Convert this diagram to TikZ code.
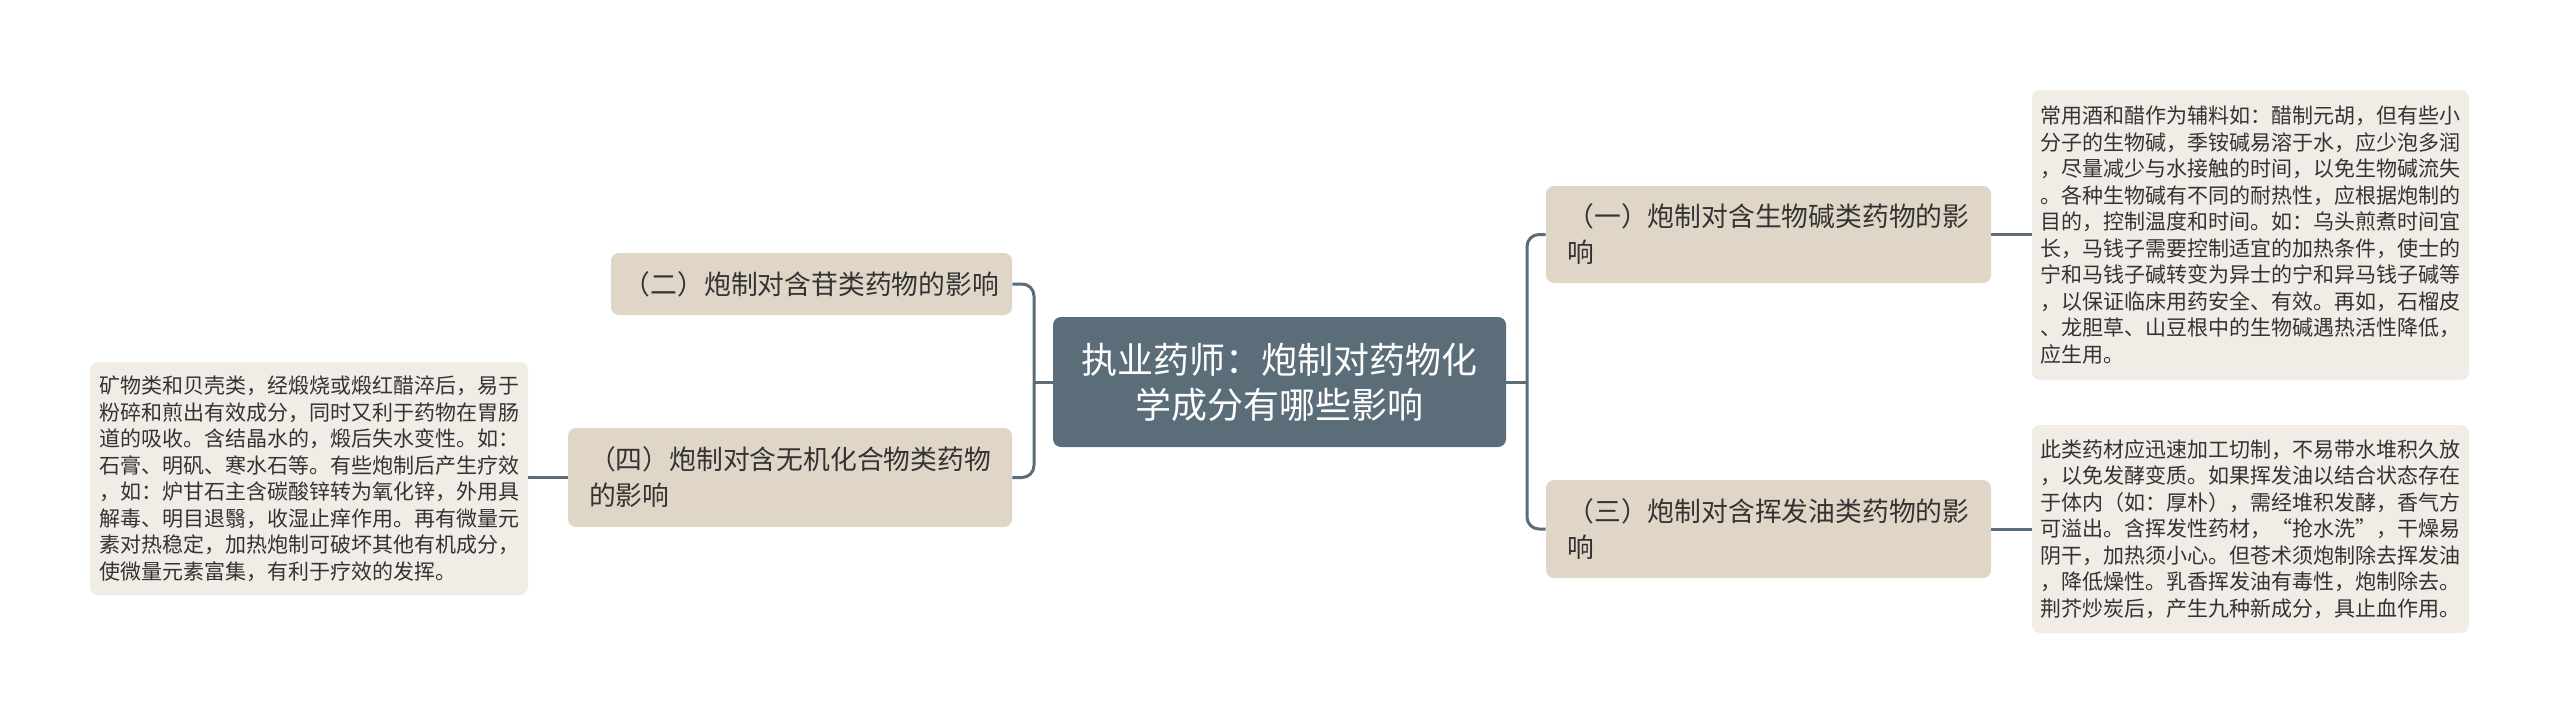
\documentclass[tikz,border=0pt]{standalone}
\usepackage{fontspec}
\setmainfont{Noto Sans CJK SC}
\usepackage{tikz}
\usetikzlibrary{positioning, calc}
\definecolor{croot}{HTML}{5C6D7A}
\definecolor{cbranch}{HTML}{E0D6C7}
\definecolor{cleaf}{HTML}{F1EDE6}
\definecolor{ctext}{HTML}{333333}

\begin{document}
\begin{tikzpicture}[
    x=0.5pt, y=-0.5pt,
    rootbox/.style={rectangle, rounded corners=4pt, fill=croot, text=white, align=center,
        font=\fontsize{18}{22.5}\selectfont, minimum width=226.5pt, minimum height=65pt},
    branchbox/.style={rectangle, rounded corners=4pt, fill=cbranch, text=ctext, align=left,
        font=\fontsize{13.4}{18}\selectfont, inner xsep=6pt},
    leafbox/.style={rectangle, rounded corners=4pt, fill=cleaf, text=ctext, align=left,
        font=\fontsize{10.5}{13.25}\selectfont, minimum width=218.5pt, inner xsep=4pt}
]

\fill[white] (0,0) rectangle (2560,724);
\useasboundingbox (0,0) rectangle (2560,724);

% Root
\node[rootbox] (root) at (1279.5, 382) {执业药师：炮制对药物化\\学成分有哪些影响};

% Left branches
\node[branchbox, minimum width=200.5pt, minimum height=31pt, align=center] (er) at (811.5, 284) {（二）炮制对含苷类药物的影响};
\node[branchbox, minimum width=222pt, minimum height=49.5pt] (si) at (790, 477.5) {（四）炮制对含无机化合物类药物\\的影响};

% Right branches
\node[branchbox, minimum width=222.5pt, minimum height=48.5pt] (yi) at (1768.5, 234.5) {（一）炮制对含生物碱类药物的影\\响};
\node[branchbox, minimum width=222.5pt, minimum height=49pt] (san) at (1768.5, 529) {（三）炮制对含挥发油类药物的影\\响};

% Leaves
\node[leafbox, minimum height=145pt] (yinote) at (2250.5, 235) {
    常用酒和醋作为辅料如：醋制元胡，但有些小\\
    分子的生物碱，季铵碱易溶于水，应少泡多润\\
    ，尽量减少与水接触的时间，以免生物碱流失\\
    。各种生物碱有不同的耐热性，应根据炮制的\\
    目的，控制温度和时间。如：乌头煎煮时间宜\\
    长，马钱子需要控制适宜的加热条件，使士的\\
    宁和马钱子碱转变为异士的宁和异马钱子碱等\\
    ，以保证临床用药安全、有效。再如，石榴皮\\
    、龙胆草、山豆根中的生物碱遇热活性降低，\\
    应生用。};

\node[leafbox, minimum height=104pt] (sannote) at (2250.5, 529) {
    此类药材应迅速加工切制，不易带水堆积久放\\
    ，以免发酵变质。如果挥发油以结合状态存在\\
    于体内（如：厚朴），需经堆积发酵，香气方\\
    可溢出。含挥发性药材，“抢水洗”，干燥易\\
    阴干，加热须小心。但苍术须炮制除去挥发油\\
    ，降低燥性。乳香挥发油有毒性，炮制除去。\\
    荆芥炒炭后，产生九种新成分，具止血作用。};

\node[leafbox, minimum width=219pt, minimum height=116.5pt] (sinote) at (309, 478.5) {
    矿物类和贝壳类，经煅烧或煅红醋淬后，易于\\
    粉碎和煎出有效成分，同时又利于药物在胃肠\\
    道的吸收。含结晶水的，煅后失水变性。如：\\
    石膏、明矾、寒水石等。有些炮制后产生疗效\\
    ，如：炉甘石主含碳酸锌转为氧化锌，外用具\\
    解毒、明目退翳，收湿止痒作用。再有微量元\\
    素对热稳定，加热炮制可破坏其他有机成分，\\
    使微量元素富集，有利于疗效的发挥。};

% Connectors
\coordinate (ltrunk) at (1034, 382);
\coordinate (rtrunk) at (1527, 382);
\begin{scope}[every path/.style={draw=croot, line width=1.5pt, rounded corners=6pt}]
    \draw (root.west) -- (ltrunk);
    \draw (er.east) -| (ltrunk) |- (si.east);
    \draw (root.east) -- (rtrunk);
    \draw (yi.west) -| (rtrunk) |- (san.west);

    \draw (yi.east) -- (yinote.west |- yi.east);
    \draw (san.east) -- (sannote.west |- san.east);
    \draw (si.west) -- (sinote.east |- si.west);
\end{scope}

\end{tikzpicture}
\end{document}
